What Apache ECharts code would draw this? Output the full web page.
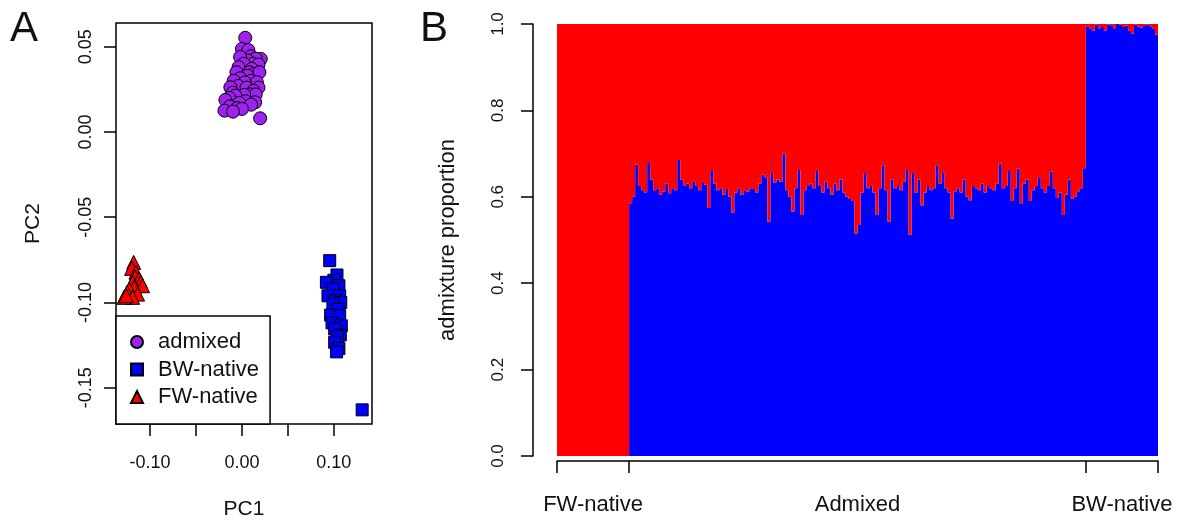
<!DOCTYPE html>
<html>
<head>
<meta charset="utf-8">
<script src="https://cdn.jsdelivr.net/npm/echarts@6/dist/echarts.min.js"></script>
<style>
  html, body { margin: 0; padding: 0; background: #fff; }
  #chart { width: 1179px; height: 529px; }
</style>
</head>
<body>
<div id="chart"></div>
<script>
// ---- panel A: PCA (PC1, PC2) ----
const admixedPts = [
  [0.0036, 0.0552], [0.0000, 0.0487], [0.0070, 0.0480], [0.0097, 0.0444], [0.0205, 0.0428],
  [0.0150, 0.0430], [0.0060, 0.0420], [-0.0020, 0.0440], [0.0120, 0.0400], [0.0180, 0.0395],
  [0.0020, 0.0400], [-0.0037, 0.0380], [0.0108, 0.0370], [-0.0060, 0.0350], [0.0080, 0.0350],
  [0.0130, 0.0340], [0.0190, 0.0350], [0.0060, 0.0330], [-0.0018, 0.0315], [0.0100, 0.0300],
  [-0.0090, 0.0300], [0.0162, 0.0292], [0.0030, 0.0290], [-0.0040, 0.0270], [-0.0126, 0.0262],
  [0.0050, 0.0260], [0.0180, 0.0260], [0.0126, 0.0242], [-0.0100, 0.0230], [0.0090, 0.0220],
  [0.0150, 0.0220], [0.0025, 0.0217], [-0.0072, 0.0213], [-0.0140, 0.0200], [-0.0180, 0.0188],
  [0.0040, 0.0180], [0.0144, 0.0174], [-0.0030, 0.0170], [0.0100, 0.0160], [-0.0130, 0.0150],
  [-0.0050, 0.0140], [0.0000, 0.0135], [-0.0190, 0.0125], [-0.0097, 0.0119], [0.0198, 0.0080]
];
const bwPts = [
  [0.0955, -0.0755], [0.1034, -0.0839], [0.1000, -0.0870], [0.0919, -0.0882], [0.1055, -0.0902],
  [0.0990, -0.0920], [0.0936, -0.0961], [0.1063, -0.0961], [0.1020, -0.0990], [0.1075, -0.1000],
  [0.0990, -0.1009], [0.1045, -0.1040], [0.0965, -0.1074], [0.1063, -0.1078], [0.0980, -0.1120],
  [0.1081, -0.1137], [0.1009, -0.1156], [0.1070, -0.1191], [0.1040, -0.1200], [0.1009, -0.1234],
  [0.1055, -0.1270], [0.1030, -0.1290], [0.1308, -0.1630]
];
const fwPts = [
  [-0.1178, -0.0765], [-0.1200, -0.0800], [-0.1153, -0.0823], [-0.1160, -0.0850], [-0.1118, -0.0863],
  [-0.1100, -0.0880], [-0.1189, -0.0882], [-0.1081, -0.0902], [-0.1172, -0.0911], [-0.1226, -0.0921],
  [-0.1250, -0.0940], [-0.1135, -0.0951], [-0.1189, -0.0970], [-0.1283, -0.0970], [-0.1260, -0.0960]
];
const pc1Ticks = [-0.10, -0.05, 0, 0.05, 0.10];
const pc1Labels = [-0.10, 0, 0.10];
const pc2Ticks = [-0.15, -0.10, -0.05, 0, 0.05];

// ---- panel B: BW ancestry proportion per individual ----
const fwNativeBW = [
  0, 0, 0, 0, 0, 0, 0, 0, 0, 0, 0, 0, 0, 0, 0, 0, 0, 0, 0, 0, 0, 0, 0, 0
];
const admixedBW = [
  0.585, 0.600, 0.674, 0.625, 0.615, 0.610, 0.678, 0.640, 0.615, 0.620,
  0.605, 0.612, 0.630, 0.608, 0.620, 0.615, 0.685, 0.640, 0.625, 0.630,
  0.620, 0.636, 0.625, 0.615, 0.632, 0.628, 0.574, 0.660, 0.630, 0.615,
  0.620, 0.605, 0.618, 0.600, 0.563, 0.610, 0.620, 0.605, 0.615, 0.612,
  0.620, 0.618, 0.610, 0.630, 0.651, 0.645, 0.542, 0.655, 0.633, 0.640,
  0.635, 0.700, 0.615, 0.600, 0.566, 0.620, 0.662, 0.558, 0.615, 0.625,
  0.630, 0.620, 0.660, 0.625, 0.610, 0.635, 0.620, 0.605, 0.630, 0.615,
  0.640, 0.610, 0.600, 0.595, 0.590, 0.515, 0.535, 0.610, 0.655, 0.620,
  0.625, 0.610, 0.558, 0.620, 0.673, 0.615, 0.542, 0.640, 0.620, 0.625,
  0.615, 0.635, 0.662, 0.512, 0.655, 0.610, 0.640, 0.580, 0.610, 0.625,
  0.615, 0.620, 0.673, 0.630, 0.655, 0.620, 0.610, 0.550, 0.613, 0.620,
  0.610, 0.640, 0.600, 0.592, 0.625, 0.620, 0.615, 0.630, 0.610, 0.625,
  0.620, 0.615, 0.630, 0.677, 0.620, 0.625, 0.660, 0.590, 0.620, 0.665,
  0.585, 0.630, 0.640, 0.590, 0.615, 0.625, 0.645, 0.620, 0.610, 0.625,
  0.658, 0.620, 0.597, 0.610, 0.558, 0.605, 0.640, 0.596, 0.600, 0.613,
  0.620, 0.666
];
const bwNativeBW = [
  0.995, 0.990, 0.985, 0.998, 0.990, 0.993, 0.985, 0.998, 0.997, 0.990,
  1.000, 0.998, 0.993, 0.996, 0.985, 0.978, 0.998, 0.994, 0.992, 0.997,
  0.998, 0.995, 0.990, 0.975
];
const groupNames = ['FW-native', 'Admixed', 'BW-native'];
const shareTicks = [0, 0.2, 0.4, 0.6, 0.8, 1.0];

const bwShare = fwNativeBW.concat(admixedBW, bwNativeBW);
const fwShare = bwShare.map(v => +(1 - v).toFixed(3));
const sampleIds = bwShare.map((v, i) => String(i + 1));
const groupSizes = [fwNativeBW.length, admixedBW.length, bwNativeBW.length];
const groupEdges = [0];
groupSizes.forEach(n => groupEdges.push(groupEdges[groupEdges.length - 1] + n));
const groupMids = groupSizes.map((n, i) => groupEdges[i] + n / 2);

const FONT = '"Liberation Sans", Arial, sans-serif';
const INK = '#111';

const chart = echarts.init(document.getElementById('chart'));
chart.setOption({
  animation: false,
  textStyle: { fontFamily: FONT },
  graphic: [
    { type: 'text', left: 10, top: 8, style: { text: 'A', fontSize: 42, fontFamily: FONT, fill: INK } },
    { type: 'text', left: 420, top: 8, style: { text: 'B', fontSize: 42, fontFamily: FONT, fill: INK } }
  ],
  legend: {
    data: ['admixed', 'BW-native', 'FW-native'],
    orient: 'vertical',
    left: 116,
    top: 316,
    padding: [15, 11, 16, 14],
    itemWidth: 12,
    itemHeight: 12,
    itemGap: 5.5,
    backgroundColor: '#fff',
    borderColor: '#000',
    borderWidth: 1.5,
    borderRadius: 0,
    selectedMode: false,
    textStyle: { fontSize: 22, lineHeight: 22, color: INK, fontFamily: FONT, padding: [0, 0, 0, 10] }
  },
  grid: [
    { left: 116, top: 23, width: 256, height: 401, show: true, borderColor: '#000', borderWidth: 1.5,
      containLabel: false, outerBoundsMode: 'none' },
    { left: 557, top: 24, width: 601, height: 432, containLabel: false, outerBoundsMode: 'none' }
  ],
  xAxis: [
    {
      gridIndex: 0, type: 'value', min: -0.137, max: 0.1415,
      name: 'PC1', nameLocation: 'middle', nameGap: 75,
      nameTextStyle: { fontSize: 21, color: INK, fontFamily: FONT },
      axisLine: { show: false, onZero: false },
      axisTick: { show: true, customValues: pc1Ticks, length: 12, lineStyle: { color: '#000', width: 1.5 } },
      axisLabel: { customValues: pc1Labels, formatter: v => v.toFixed(2), margin: 30, fontSize: 18, color: INK, fontFamily: FONT },
      splitLine: { show: false }
    },
    {
      gridIndex: 1, type: 'category', data: sampleIds, boundaryGap: true, show: false
    },
    {
      gridIndex: 1, type: 'value', min: 0, max: bwShare.length, position: 'bottom', offset: 5,
      axisLine: { show: true, onZero: false, lineStyle: { color: '#000', width: 1.5 } },
      axisTick: { show: true, customValues: groupEdges, length: 12, lineStyle: { color: '#000', width: 1.5 } },
      axisLabel: {
        customValues: groupMids, margin: 33, fontSize: 22, color: INK, fontFamily: FONT,
        formatter: v => groupNames[groupMids.indexOf(v)] || ''
      },
      splitLine: { show: false }
    }
  ],
  yAxis: [
    {
      gridIndex: 0, type: 'value', min: -0.1713, max: 0.0639,
      name: 'PC2', nameLocation: 'middle', nameGap: 72,
      nameTextStyle: { fontSize: 21, color: INK, fontFamily: FONT },
      axisLine: { show: false, onZero: false },
      axisTick: { show: true, customValues: pc2Ticks, length: 12, lineStyle: { color: '#000', width: 1.5 } },
      axisLabel: { customValues: pc2Ticks, rotate: 90, formatter: v => v.toFixed(2), margin: 21, fontSize: 18, color: INK, fontFamily: FONT },
      splitLine: { show: false }
    },
    {
      gridIndex: 1, type: 'value', min: 0, max: 1, offset: 24,
      name: 'admixture proportion', nameLocation: 'middle', nameGap: 74,
      nameTextStyle: { fontSize: 22, color: INK, fontFamily: FONT },
      axisLine: { show: true, onZero: false, lineStyle: { color: '#000', width: 1.5 } },
      axisTick: { show: true, customValues: shareTicks, length: 12, lineStyle: { color: '#000', width: 1.5 } },
      axisLabel: { customValues: shareTicks, rotate: 90, formatter: v => v.toFixed(1), margin: 26, fontSize: 17, color: INK, fontFamily: FONT },
      splitLine: { show: false }
    }
  ],
  series: [
    {
      name: 'admixed', type: 'scatter', xAxisIndex: 0, yAxisIndex: 0, data: admixedPts,
      symbol: 'circle', symbolSize: 13,
      itemStyle: { color: '#A020F0', borderColor: '#000', borderWidth: 1, opacity: 1 }
    },
    {
      name: 'BW-native', type: 'scatter', xAxisIndex: 0, yAxisIndex: 0, data: bwPts,
      symbol: 'rect', symbolSize: 12,
      itemStyle: { color: '#0000FF', borderColor: '#000', borderWidth: 1, opacity: 1 }
    },
    {
      name: 'FW-native', type: 'scatter', xAxisIndex: 0, yAxisIndex: 0, data: fwPts,
      symbol: 'triangle', symbolSize: 14,
      itemStyle: { color: '#FF0000', borderColor: '#000', borderWidth: 1, opacity: 1 }
    },
    {
      name: 'BW ancestry', type: 'bar', xAxisIndex: 1, yAxisIndex: 1, stack: 'q', data: bwShare,
      barWidth: '100%', barCategoryGap: '0%', silent: true, large: true, largeThreshold: 1,
      itemStyle: { color: '#0000FF' }
    },
    {
      name: 'FW ancestry', type: 'bar', xAxisIndex: 1, yAxisIndex: 1, stack: 'q', data: fwShare,
      barWidth: '100%', barCategoryGap: '0%', silent: true, large: true, largeThreshold: 1,
      itemStyle: { color: '#FF0000' }
    }
  ]
});
</script>
</body>
</html>
